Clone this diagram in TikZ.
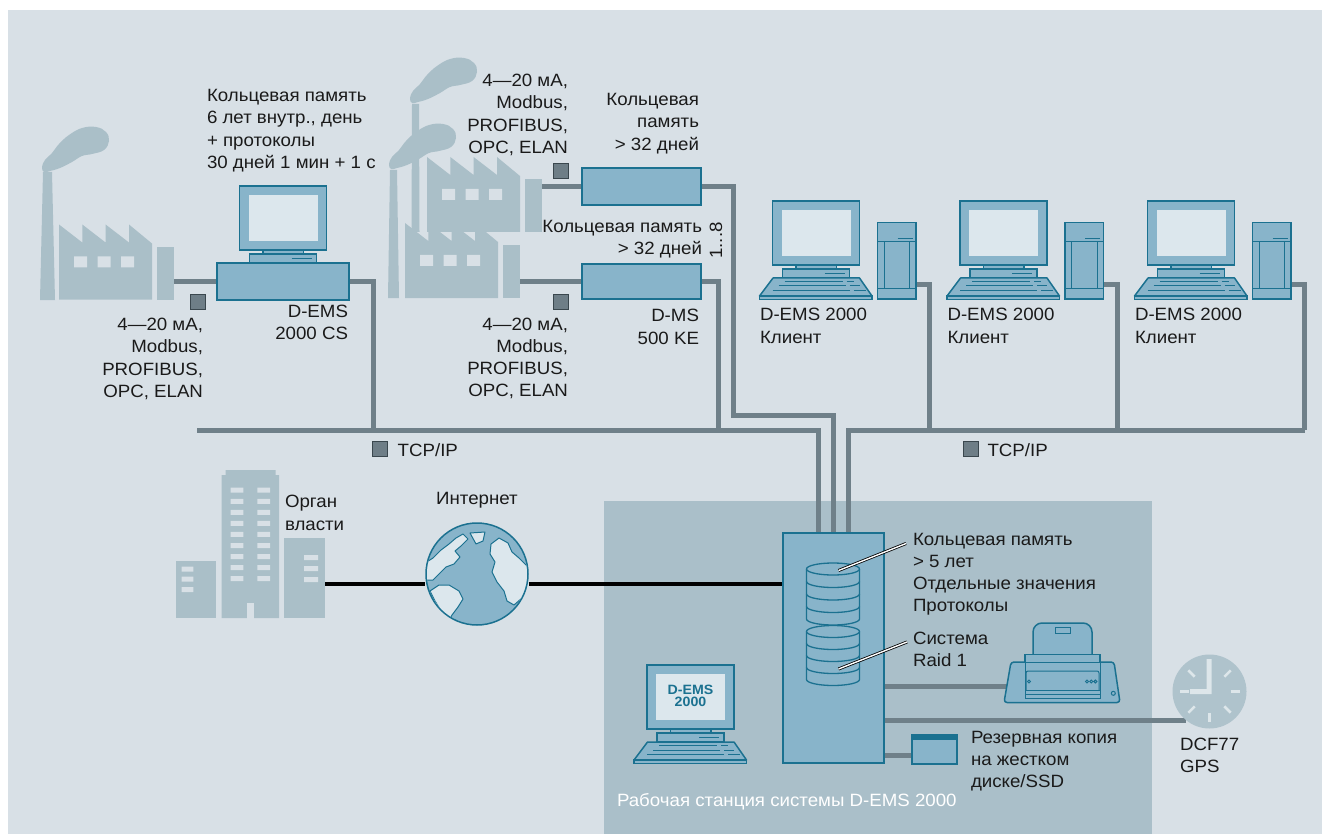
\documentclass[tikz,border=0pt]{standalone}
\usepackage{fontspec}
\setmainfont{Liberation Sans}[FakeStretch=1.05]
\definecolor{panel}{HTML}{D8E0E6}
\definecolor{zone}{HTML}{AABFC9}
\definecolor{wireC}{HTML}{6F8089}
\definecolor{devF}{HTML}{88B4CA}
\definecolor{devS}{HTML}{1B7190}
\definecolor{scrC}{HTML}{DCE7ED}
\definecolor{silC}{HTML}{AABFC8}
\definecolor{sqF}{HTML}{6E7E87}
\definecolor{sqS}{HTML}{3A474E}
\definecolor{clockF}{HTML}{AFC3CC}
\definecolor{clockH}{HTML}{DDE6EA}
\definecolor{txt}{HTML}{1A1A1A}
% multi-line blocks whose baseline is the first line
\newcommand\leftlines[1]{\vtop{\halign{##\hfil\cr#1\crcr}}}
\newcommand\rightlines[1]{\vtop{\halign{\hfil##\cr#1\crcr}}}
\newcommand\centerlines[1]{\vtop{\halign{\hfil##\hfil\cr#1\crcr}}}
\pgfdeclarelayer{back}
\pgfdeclarelayer{wires}
\pgfsetlayers{back,wires,main}
\tikzset{
  wire/.style={draw=wireC, line width=5pt, line join=miter},
  netline/.style={draw=black, line width=4pt},
  dev/.style={draw=devS, fill=devF, line width=1.5pt},
  devline/.style={draw=devS, line width=1pt},
  box/.style={dev, rectangle, inner sep=0pt, outer sep=0pt, anchor=north west},
  lbl/.style={font=\fontsize{17.8}{22.3}\selectfont, text=txt, inner sep=0pt, outer sep=0pt},
  sqbox/.style={rectangle, fill=sqF, draw=sqS, line width=0.8pt, minimum size=15pt, inner sep=0pt},
  leader/.style={draw=black, line width=3pt},
  leadercore/.style={draw=white, line width=1.4pt},
  % monitor with stand, origin = top left of the monitor
  screenset/.pic={
    \draw[dev] (0,0) rectangle (87,64);
    \fill[scrC] (9,9) rectangle (78,55);
    \draw[dev] (23.5,64) rectangle (64,68);
    \draw[dev] (10,68) rectangle (77,77);
    \draw[devline] (52,72.5) -- (72,72.5);
  },
  keyboard/.pic={
    \draw[dev, line join=round] (0.5,77) -- (87,77) -- (99.5,95) -- (-13,95) -- cycle;
    \draw[dev] (-13,95) rectangle (99.5,98.5);
    \draw[devline] (12,80.5) -- (70,80.5) (74,80.5) -- (81,80.5)
      (6,85) -- (73,85) (77,85) -- (87,85)
      (0,89.5) -- (77,89.5) (81,89.5) -- (93,89.5);
  },
  client/.pic={
    \pic at (0,0) {screenset};
    \pic at (0,0) {keyboard};
    \node[box, minimum width=38.5pt, minimum height=76.3pt] (-tower) at (105,21.7) {};
    \draw[devline] (105,40.7) -- (143.5,40.7) (111.7,40.7) -- (111.7,87.3)
      (137,40.7) -- (137,87.3) (105,87.3) -- (143.5,87.3) (125,37.3) -- (140,37.3);
    \coordinate (-port) at (143.5,84);
    \coordinate (-drop) at (157,229);
  },
  % plant silhouette, origin = top of the first roof tooth
  factory/.pic={
    \fill[silC] (0,75) -- (0,0) -- (23.3,18) -- (23.3,0) -- (46.6,18) -- (46.6,0)
      -- (70,18) -- (70,0) -- (93,19) -- (93,75) -- cycle;
    \fill[silC] (98,22.5) rectangle (115,75);
    \fill[panel] (15,32) rectangle (28,43) (38.5,32) rectangle (51.5,43) (62,32) rectangle (75,43);
  },
  % smoke plume, origin = just above the chimney mouth
  smoke/.pic={
    \fill[silC] plot[smooth cycle, tension=0.7] coordinates {
      (0,-5) (3,-12) (10,-19) (17,-28) (27,-37) (40,-44) (54,-45) (64,-40) (67,-31)
      (62,-22) (50,-18) (40,-16) (30,-10) (18,-4) (8,-1) (2,0)};
  },
}
\begin{document}
\begin{tikzpicture}[x=1pt,y=-1pt]
\useasboundingbox (0,0) rectangle (1322,834);
\begin{pgfonlayer}{back}
  \fill[white] (0,0) rectangle (1322,834);
  \fill[panel] (8,10) rectangle (1322,834);
  \fill[zone] (604,501) rectangle (1152,834);
\end{pgfonlayer}

% ---------- plants ----------
\fill[silC] (40,300) -- (43,172) -- (52,172) -- (55,300) -- cycle;
\pic at (42,172) {smoke};
\pic at (59,224.5) {factory};
\coordinate (fAport) at (174,281.5);

\fill[silC] (411.5,232) -- (412,104) -- (419,104) -- (419.5,232) -- cycle;
\pic at (410,103) {smoke};
\pic at (427,157) {factory};
\coordinate (fBport) at (542,186.5);

\fill[silC] (388,298) -- (390,170) -- (397,170) -- (399,298) -- cycle;
\pic at (389,169) {smoke};
\pic at (405,223) {factory};
\coordinate (fCport) at (520,281.5);

% ---------- D-EMS 2000 CS ----------
\pic at (239.5,186) {screenset};
\node[box, minimum width=132pt, minimum height=37pt] (cs) at (217,263) {};

% ---------- D-MS 500 KE ----------
\node[box, minimum width=119pt, minimum height=37pt] (dms1) at (582,168) {};
\node[box, minimum width=119pt, minimum height=35pt] (dms2) at (582,264) {};

% ---------- clients ----------
\pic (c1) at (772.5,201) {client};
\pic (c2) at (960,201) {client};
\pic (c3) at (1147.5,201) {client};

% ---------- bus coordinates ----------
\coordinate (busW) at (197,430);
\coordinate (dropCS) at (373,430);
\coordinate (dropDMS) at (718,430);
\coordinate (bendU) at (733,415);

% ---------- authority building ----------
\fill[silC] (176,561) rectangle (216,618);
\fill[silC] (221.7,475) rectangle (279,618) (225.7,470) rectangle (275.7,476);
\fill[silC] (284,538) rectangle (325,618);
\fill[panel] (246.7,603) rectangle (254,618.5);
\fill[panel] (181.7,566.7) rectangle (193.3,571.7) (181.7,576.7) rectangle (193.3,581.7)
             (181.7,587) rectangle (193.3,592);
\foreach \r in {0,...,8}
  \fill[panel] (230.7,487.7+11.06*\r) rectangle (243.3,492.7+11.06*\r)
               (257.3,487.7+11.06*\r) rectangle (270,492.7+11.06*\r);
\fill[panel] (304,555) rectangle (318,560) (304,566) rectangle (318,571) (304,577) rectangle (318,582);
\coordinate (govport) at (325,584);

% ---------- globe ----------
\node[circle, draw=devS, fill=devF, line width=1.5pt, minimum size=102pt, inner sep=0pt] (globe) at (477,574) {};
\begin{scope}[shift={(477,574)}]
  \clip (0,0) circle (50pt);
  % the Americas
  \filldraw[fill=scrC, devline, line join=round]
    (-52,-11) -- (-44,-16) -- (-36,-24) -- (-28,-30) -- (-21,-36) -- (-14,-40) -- (-9,-35) -- (-16,-28)
    -- (-22,-23) -- (-17,-17) -- (-23,-10) -- (-31,-7) -- (-38,0) -- (-44,6) -- (-52,6) -- cycle;
  \filldraw[fill=scrC, devline, line join=round]
    (-47,17) -- (-38,11) -- (-28,11) -- (-18,17) -- (-14,25) -- (-19,33) -- (-25,41) -- (-30,50)
    -- (-36,45) -- (-37,35) -- (-42,27) -- cycle;
  % Greenland
  \filldraw[fill=scrC, devline, line join=round]
    (-7,-41) -- (8,-42) -- (6,-33) -- (-1,-30) -- cycle;
  % Europe and Africa
  \filldraw[fill=scrC, devline, line join=round]
    (14,-30) -- (22,-36) -- (31,-31) -- (35,-22) -- (42,-16) -- (52,-6) -- (52,14) -- (45,24)
    -- (37,31) -- (30,27) -- (27,17) -- (20,8) -- (15,-2) -- (18,-12) -- (13,-20) -- cycle;
\end{scope}

% ---------- workstation ----------
\node[box, minimum width=101pt, minimum height=230pt] (srv) at (783,533) {};
\coordinate (inA) at (818,533);
\coordinate (inB) at (833,533);
\coordinate (inC) at (848,533);

% disk stacks
\begin{scope}[devline, line width=1.3pt]
  \filldraw[fill=devF] (806.5,631.5) -- (806.5,679.5)
     arc[start angle=180, end angle=360, x radius=26.5pt, y radius=6pt] -- (859.5,631.5);
  \filldraw[fill=devF] (833,631.5) ellipse [x radius=26.5pt, y radius=6pt];
  \foreach \yy in {643.5,655.5,667.5}
    \draw (806.5,\yy) arc[start angle=180, end angle=360, x radius=26.5pt, y radius=6pt];
  \filldraw[fill=devF] (806.5,569) -- (806.5,619)
     arc[start angle=180, end angle=360, x radius=26.5pt, y radius=6pt] -- (859.5,569);
  \filldraw[fill=devF] (833,569) ellipse [x radius=26.5pt, y radius=6pt];
  \foreach \yy in {581.5,594,606.5}
    \draw (806.5,\yy) arc[start angle=180, end angle=360, x radius=26.5pt, y radius=6pt];
\end{scope}
\coordinate (diskA) at (838.5,570.5);
\coordinate (diskB) at (838.5,669);
\coordinate (noteA) at (906,543.5);
\coordinate (noteB) at (907,642);
\draw[leader] (diskA) -- (noteA);
\draw[leadercore] (diskA) -- (noteA);
\draw[leader] (diskB) -- (noteB);
\draw[leadercore] (diskB) -- (noteB);

% operator PC
\pic at (647,665) {screenset};
\pic at (647,665) {keyboard};
\node[font=\bfseries\fontsize{13.5}{12.8}\selectfont, text=devS, inner sep=0pt, anchor=base]
  (wstext) at (690.5,694) {\centerlines{D-EMS\cr 2000}};

% printer
\coordinate (prn) at (1010,686.7);
\draw[dev, rounded corners=9pt] (1033,656) -- (1033,623) -- (1092,623) -- (1092,656);
\draw[devline, fill=devF] (1055,627) rectangle (1070,633);
\draw[dev, rounded corners=3pt] (1011,662) -- (1114,662) -- (1120,702.5) -- (1004,702.5) -- cycle;
\draw[dev] (1025,654.3) rectangle (1100,662.3);
\draw[devline] (1025,662) -- (1025,698) -- (1100,698) -- (1100,662);
\draw[devline, rounded corners=2pt] (1026,690) -- (1026,671) -- (1099,671) -- (1099,690);
\draw[devline] (1025,690) -- (1100,690) (1025,694.5) -- (1100,694.5);
\draw[devline] (1029,681.5) circle (1.5pt) (1087,681.5) circle (1.5pt)
  (1091.2,681.5) circle (1.5pt) (1095.4,681.5) circle (1.5pt) (1113.3,693.3) circle (2pt);

% clock
\node[circle, fill=clockF, minimum size=74pt, inner sep=0pt] (clk) at (1209.5,691.5) {};
\foreach \a in {0,45,90,135,180,225,315}
  \draw[clockH, line width=2.5pt, shift={(clk.center)}] (\a:21) -- (\a:30);
\fill[clockH] (1206.7,659) rectangle (1211.7,694) (1190,689) rectangle (1211.7,694);

% backup disk
\node[box, minimum width=45pt, minimum height=29pt] (bkp) at (912,735) {};
\fill[devS] (912,735) rectangle (957,739.5);
\coordinate (bkpin) at (912,755);

% ---------- connections ----------
\begin{pgfonlayer}{wires}
  \draw[wire] (fAport) -- (fAport -| cs.west);
  \draw[wire] (cs.east) -| (dropCS);
  \draw[wire] (busW) -- (busW -| inA) -- (inA);
  \draw[wire] (fBport) -- (dms1.west);
  \draw[wire] (dms1.east) -| (bendU) -| (inB);
  \draw[wire] (fCport) -- (dms2.west);
  \draw[wire] (dms2.east) -| (dropDMS);
  \draw[wire] (inC) |- (c3-drop);
  \draw[wire] (c1-port) -| (c1-drop);
  \draw[wire] (c2-port) -| (c2-drop);
  \draw[wire] (c3-port) -| (c3-drop);
  \draw[wire] (srv.east |- prn) -- (prn);
  \draw[wire] (srv.east |- clk.230) -- (clk.230);
  \draw[wire] (srv.east |- bkpin) -- (bkpin);
  \draw[netline] (govport) -- (govport -| globe.west);
  \draw[netline] (govport -| globe.east) -- (govport -| srv.west);
\end{pgfonlayer}

% ---------- interface markers ----------
\node[sqbox] (sqA) at (198,301.5) {};
\node[sqbox] (sqB) at (560.5,170.5) {};
\node[sqbox] (sqC) at (560.5,302) {};
\node[sqbox] (sqD) at (380,448.5) {};
\node[sqbox] (sqE) at (970.5,448.5) {};

% ---------- labels ----------
\node[lbl, anchor=base west] (tCSmem) at (207,101.5)
  {\leftlines{Кольцевая память\cr 6 лет внутр., день\cr + протоколы\cr 30 дней 1 мин + 1 с}};
\node[lbl, anchor=base east] (tProtoA) at (203,330.5)
  {\rightlines{4—20 мА,\cr Modbus,\cr PROFIBUS,\cr OPC, ELAN}};
\node[lbl, anchor=base east] (tCS) at (348,317.5) {\rightlines{D-EMS\cr 2000 CS}};
\node[lbl, anchor=base east] (tProtoB) at (568,86.5)
  {\rightlines{4—20 мА,\cr Modbus,\cr PROFIBUS,\cr OPC, ELAN}};
\node[lbl, anchor=base east] (tMemB) at (699,105.7) {\rightlines{Кольцевая\cr память\cr > 32 дней}};
\node[lbl, anchor=base east] (tMemC) at (702,232.3) {\rightlines{Кольцевая память\cr > 32 дней}};
\node[lbl, rotate=90] (tCount) at (716,240.5) {1...8};
\node[lbl, anchor=base east] (tProtoC) at (568,330)
  {\rightlines{4—20 мА,\cr Modbus,\cr PROFIBUS,\cr OPC, ELAN}};
\node[lbl, anchor=base east] (tDMS) at (699,321.7) {\rightlines{D-MS\cr 500 KE}};
\node[lbl, anchor=base west] (tC1) at (760,320.7) {\leftlines{D-EMS 2000\cr Клиент}};
\node[lbl, anchor=base west] (tC2) at (947.5,320.7) {\leftlines{D-EMS 2000\cr Клиент}};
\node[lbl, anchor=base west] (tC3) at (1135,320.7) {\leftlines{D-EMS 2000\cr Клиент}};
\node[lbl, anchor=base west] (tTcpA) at (397.7,456) {TCP/IP};
\node[lbl, anchor=base west] (tTcpB) at (987.5,456) {TCP/IP};
\node[lbl, anchor=base west] (tGov) at (285,507.7) {\leftlines{Орган\cr власти}};
\node[lbl, anchor=base] (tNet) at (477,504) {Интернет};
\node[lbl, anchor=base west] (tSrvA) at (913,545)
  {\leftlines{Кольцевая память\cr > 5 лет\cr Отдельные значения\cr Протоколы}};
\node[lbl, anchor=base west] (tSrvB) at (913,644.3) {\leftlines{Система\cr Raid 1}};
\node[lbl, anchor=base west] (tBkp) at (971,743.3)
  {\leftlines{Резервная копия\cr на жестком\cr диске/SSD}};
\node[lbl, anchor=base west] (tClk) at (1180,750) {\leftlines{DCF77\cr GPS}};
\node[lbl, anchor=base west, text=white] (tZone) at (617,806) {Рабочая станция системы D-EMS 2000};
\end{tikzpicture}
\end{document}
